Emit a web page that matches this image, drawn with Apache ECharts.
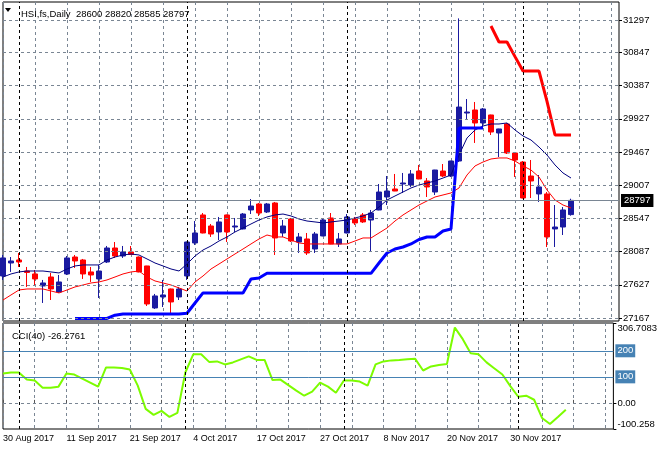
<!DOCTYPE html>
<html><head><meta charset="utf-8">
<script src="https://cdn.jsdelivr.net/npm/echarts@6/dist/echarts.min.js"></script>
<style>html,body{margin:0;padding:0;background:#fff}#c{width:660px;height:450px}</style>
</head><body><div id="c"></div>
<script>
const symbolName = 'HSI,fs,Daily';
const dates = ['2017-08-30','2017-08-31','2017-09-01','2017-09-04','2017-09-05','2017-09-06','2017-09-07','2017-09-08','2017-09-11','2017-09-12','2017-09-13','2017-09-14','2017-09-15','2017-09-18','2017-09-19','2017-09-20','2017-09-21','2017-09-22','2017-09-25','2017-09-26','2017-09-27','2017-09-28','2017-09-29','2017-10-03','2017-10-04','2017-10-06','2017-10-09','2017-10-10','2017-10-11','2017-10-12','2017-10-13','2017-10-16','2017-10-17','2017-10-18','2017-10-19','2017-10-20','2017-10-23','2017-10-24','2017-10-25','2017-10-26','2017-10-27','2017-10-30','2017-10-31','2017-11-01','2017-11-02','2017-11-03','2017-11-06','2017-11-07','2017-11-08','2017-11-09','2017-11-10','2017-11-13','2017-11-14','2017-11-15','2017-11-16','2017-11-17','2017-11-20','2017-11-21','2017-11-22','2017-11-23','2017-11-24','2017-11-27','2017-11-28','2017-11-29','2017-11-30','2017-12-01','2017-12-04','2017-12-05','2017-12-06','2017-12-07','2017-12-08','2017-12-11'];
const open  = [27749,27929,27971,27818,27777,27611,27735,27527,27777,28012,27971,27805,27708,27943,28137,28026,28082,28012,27888,27306,27458,27569,27458,27749,28207,28595,28442,28359,28595,28428,28401,28664,28747,28636,28761,28345,28539,28220,28262,28123,28304,28553,28193,28345,28539,28595,28525,28664,28844,28955,29024,29010,29204,29066,28913,29204,29135,29343,30008,30050,29870,29981,29731,29856,29454,29329,29135,28886,28886,28401,28428,28600];
const high  = [28040,28012,28068,27874,27832,27694,27791,27763,28026,28040,27985,27874,27902,28165,28220,28165,28165,28020,27890,27500,27694,27575,27597,28225,28511,28622,28470,28567,28600,28553,28622,28816,28761,28761,28775,28525,28553,28345,28345,28359,28539,28622,28345,28608,28567,28622,28664,29024,29135,29163,29177,29218,29288,29107,29220,29301,29345,31320,30202,30161,30078,29985,29790,29870,29468,29343,29357,29149,28913,28733,28705,28820];
const low   = [27694,27805,27874,27597,27624,27375,27416,27514,27763,27860,27708,27666,27444,27929,27999,27999,28040,27800,27333,27292,27319,27236,27416,27694,28179,28340,28290,28248,28220,28359,28395,28608,28581,28622,28040,28290,28220,28068,28040,28068,28300,28190,28151,28340,28456,28484,28082,28660,28733,28925,28900,28983,29090,28844,28872,29121,29121,29329,29925,29593,29800,29703,29398,29440,29121,28825,28830,28775,28151,28151,28317,28585];
const close = [27999,27957,27943,27798,27708,27652,27569,27666,27999,27957,27777,27763,27818,28137,28026,28082,28047,27805,27361,27472,27486,27389,27569,28220,28345,28345,28331,28498,28359,28442,28608,28719,28622,28747,28276,28442,28234,28290,28068,28331,28525,28193,28262,28567,28484,28498,28622,28913,28927,28927,29038,29163,29094,28983,29218,29135,29343,30091,30022,29870,30064,29745,29787,29454,29357,28830,29066,28983,28290,28428,28664,28797];
const upperMA = [27735,27777,27805,27818,27818,27818,27805,27791,27846,27888,27902,27902,27902,27971,28012,28040,28054,28040,27985,27929,27888,27846,27818,27915,28026,28109,28165,28234,28290,28359,28414,28470,28525,28567,28595,28608,28581,28539,28511,28498,28484,28498,28511,28525,28553,28581,28622,28705,28802,28858,28913,28969,29010,29038,29066,29107,29149,29426,29662,29773,29828,29856,29856,29870,29773,29690,29634,29537,29426,29288,29177,29107];
const lowerMA = [27416,27486,27555,27569,27569,27569,27541,27514,27555,27597,27624,27652,27666,27694,27735,27777,27805,27818,27735,27680,27652,27624,27583,27541,27666,27749,27846,27915,27985,28054,28123,28193,28262,28317,28290,28290,28248,28207,28193,28193,28193,28193,28193,28193,28234,28276,28276,28345,28414,28511,28595,28664,28733,28789,28844,28872,28900,28969,29149,29274,29329,29371,29385,29385,29343,29274,29218,29121,28941,28802,28733,28692];
const supportLine = [null,null,null,null,null,null,null,null,null,27160,27160,27160,27160,27160,27205,27222,27222,27222,27222,27222,27222,27222,27222,27232,27375,27514,27514,27514,27514,27514,27514,27708,27721,27786,27786,27786,27786,27786,27786,27786,27786,27786,27786,27786,27786,27786,27786,27929,28068,28123,28151,28193,28255,28290,28290,28373,28401,29800,29800,29800,29800,null,null,null,null,null,null,null,null,null,null,null];
const resistLine = [null,null,null,null,null,null,null,null,null,null,null,null,null,null,null,null,null,null,null,null,null,null,null,null,null,null,null,null,null,null,null,null,null,null,null,null,null,null,null,null,null,null,null,null,null,null,null,null,null,null,null,null,null,null,null,null,null,null,null,null,null,31214,30992,30992,30790,30590,30590,30590,30170,29703,29703,29703];
const cciPeriod = 40;
const cci = [112.8,116.7,116.7,89.5,85.7,58.5,58.5,62.4,112.8,108.9,93.4,77.9,62.4,136.0,136.0,134.1,128.3,66.3,-22.9,-46.1,-30.6,-53.9,-38.4,116.7,186.4,186.4,157.4,159.3,147.7,155.4,167.1,178.7,165.1,165.1,87.6,89.5,68.2,46.9,27.5,43.0,77.9,62.4,39.1,85.7,85.7,81.8,66.3,147.7,159.3,163.2,165.1,167.1,169.0,124.4,139.9,145.7,149.6,289.1,244.6,190.3,186.4,155.4,132.2,108.9,64.3,23.6,27.5,12.0,-57.8,-81.0,-53.9,-26.2761];
const priceTicks = [27167,27627,28087,28547,29007,29467,29927,30387,30847,31297];
const cciTicks = [-100.258, 0, 306.7083];
const cciTickLabels = ['-100.258', '0.00', '306.7083'];
const cciLevels = [100, 200];
const blankSlots = 6;

const monthNames = ['Jan','Feb','Mar','Apr','May','Jun','Jul','Aug','Sep','Oct','Nov','Dec'];
function fmtDate(s) {
  if (!/^\d{4}-\d{2}-\d{2}$/.test(s)) return '';
  const p = s.split('-');
  return (+p[2]) + ' ' + monthNames[+p[1] - 1] + ' ' + p[0];
}
const cats = dates.concat(Array.from({length: blankSlots}, (_, i) => 'slot' + i));
const candles = dates.map((d, i) => [open[i], close[i], low[i], high[i]]);
const monthStarts = dates.filter((d, i) => i > 0 && d.slice(5, 7) !== dates[i - 1].slice(5, 7));
const last = dates.length - 1;

const FONT = 'Liberation Sans';
const gridGray = '#7a8694';
const dash = [3, 3];
const sepLines = monthStarts.map(d => ({xAxis: d, lineStyle: {color: '#000', type: dash, width: 1}}));

const chart = echarts.init(document.getElementById('c'));
chart.setOption({
  animation: false,
  backgroundColor: '#fff',
  textStyle: {fontFamily: FONT},
  title: [
    {text: symbolName + '  ' + [open[last], high[last], low[last], close[last]].join(' '), left: 16, top: 4,
     textStyle: {fontSize: 9.5, fontWeight: 'normal', color: '#000', fontFamily: FONT}},
    {text: 'CCI(' + cciPeriod + ') ' + cci[last], left: 7, top: 326,
     textStyle: {fontSize: 9.5, fontWeight: 'normal', color: '#000', fontFamily: FONT}}
  ],
  graphic: [{type: 'polygon', shape: {points: [[5, 8], [11, 8], [8, 12]]}, style: {fill: '#000'}}],
  grid: [
    {left: 3, right: 41, top: 2, height: 319, show: true, borderColor: '#000', borderWidth: 1},
    {left: 3, right: 41, top: 323, height: 106, show: true, borderColor: '#000', borderWidth: 1}
  ],
  xAxis: [
    {type: 'category', gridIndex: 0, data: cats, boundaryGap: false,
     axisLine: {show: false}, axisTick: {show: false}, axisLabel: {show: false},
     splitLine: {show: true, interval: 3, lineStyle: {color: gridGray, type: dash, width: 1}}},
    {type: 'category', gridIndex: 1, data: cats, boundaryGap: false,
     axisLine: {show: false},
     axisTick: {show: true, interval: 3, inside: true, length: 3, lineStyle: {color: '#555'}},
     axisLabel: {show: true, interval: 7, align: 'left', formatter: fmtDate, fontSize: 9, color: '#000', margin: 5, fontFamily: FONT},
     splitLine: {show: true, interval: 3, lineStyle: {color: gridGray, type: dash, width: 1}}}
  ],
  yAxis: [
    {type: 'value', gridIndex: 0, position: 'right', min: 27125, max: 31547, scale: true,
     axisLine: {show: false}, splitLine: {show: false},
     axisTick: {show: true, length: 3, customValues: priceTicks, lineStyle: {color: '#000'}},
     axisLabel: {customValues: priceTicks, fontSize: 9.5, color: '#000', margin: 4, fontFamily: FONT,
       formatter: v => String(v)}},
    {type: 'value', gridIndex: 1, position: 'right', min: cciTicks[0], max: cciTicks[cciTicks.length - 1],
     axisLine: {show: false}, splitLine: {show: false},
     axisTick: {show: true, length: 3, customValues: cciTicks, lineStyle: {color: '#000'}},
     axisLabel: {customValues: cciTicks, fontSize: 9.5, color: '#000', margin: 4, fontFamily: FONT,
       verticalAlignMaxLabel: 'top', verticalAlignMinLabel: 'bottom',
       formatter: v => { const k = cciTicks.indexOf(v); return k >= 0 ? cciTickLabels[k] : ''; }}}
  ],
  series: [
    {name: 'grid', type: 'line', xAxisIndex: 0, yAxisIndex: 0, data: close, symbol: 'none', silent: true, z: 1,
     lineStyle: {opacity: 0}, tooltip: {show: false},
     markLine: {symbol: ['none', 'none'], silent: true, animation: false, label: {show: false},
       lineStyle: {color: gridGray, type: dash, width: 1},
       data: priceTicks.map(v => ({yAxis: v})).concat(sepLines)}},
    {name: 'price', type: 'candlestick', xAxisIndex: 0, yAxisIndex: 0, data: candles, barWidth: 5, z: 2,
     itemStyle: {color: '#1a1aa0', color0: '#ff0000', borderColor: '#1a1aa0', borderColor0: '#ff0000', borderWidth: 1},
     markLine: {symbol: ['none', 'none'], silent: true, animation: false,
       data: [{yAxis: close[last], lineStyle: {color: '#7a8694', type: 'solid', width: 1},
         label: {show: true, position: 'end', distance: 2, formatter: String(close[last]), color: '#fff',
           backgroundColor: '#000', padding: [2, 3, 1, 3], fontSize: 9.5, fontFamily: FONT}}]}},
    {name: 'upper', type: 'line', xAxisIndex: 0, yAxisIndex: 0, data: upperMA, symbol: 'none', z: 3,
     lineStyle: {color: '#000080', width: 1}},
    {name: 'lower', type: 'line', xAxisIndex: 0, yAxisIndex: 0, data: lowerMA, symbol: 'none', z: 3,
     lineStyle: {color: '#ff0000', width: 1}},
    {name: 'support', type: 'line', xAxisIndex: 0, yAxisIndex: 0, data: supportLine, symbol: 'none', z: 4,
     connectNulls: false, lineStyle: {color: '#0000ff', width: 3}},
    {name: 'resist', type: 'line', xAxisIndex: 0, yAxisIndex: 0, data: resistLine, symbol: 'none', z: 4,
     connectNulls: false, lineStyle: {color: '#ff0000', width: 3}},
    {name: 'CCI', type: 'line', xAxisIndex: 1, yAxisIndex: 1, data: cci, symbol: 'none', z: 3,
     lineStyle: {color: '#7cfc00', width: 2},
     markLine: {symbol: ['none', 'none'], silent: true, animation: false,
       data: [{yAxis: 0, lineStyle: {color: gridGray, type: dash, width: 1}, label: {show: false}}]
         .concat(cciLevels.map(v => ({yAxis: v, lineStyle: {color: '#4682b4', type: 'solid', width: 1},
           label: {show: true, position: 'end', distance: 2, formatter: String(v), color: '#fff',
             backgroundColor: '#4682b4', padding: [2, 2, 1, 2], fontSize: 9.5, fontFamily: FONT}})))
         .concat(sepLines.map(s => Object.assign({}, s, {label: {show: false}})))}}
  ]
});
</script></body></html>
